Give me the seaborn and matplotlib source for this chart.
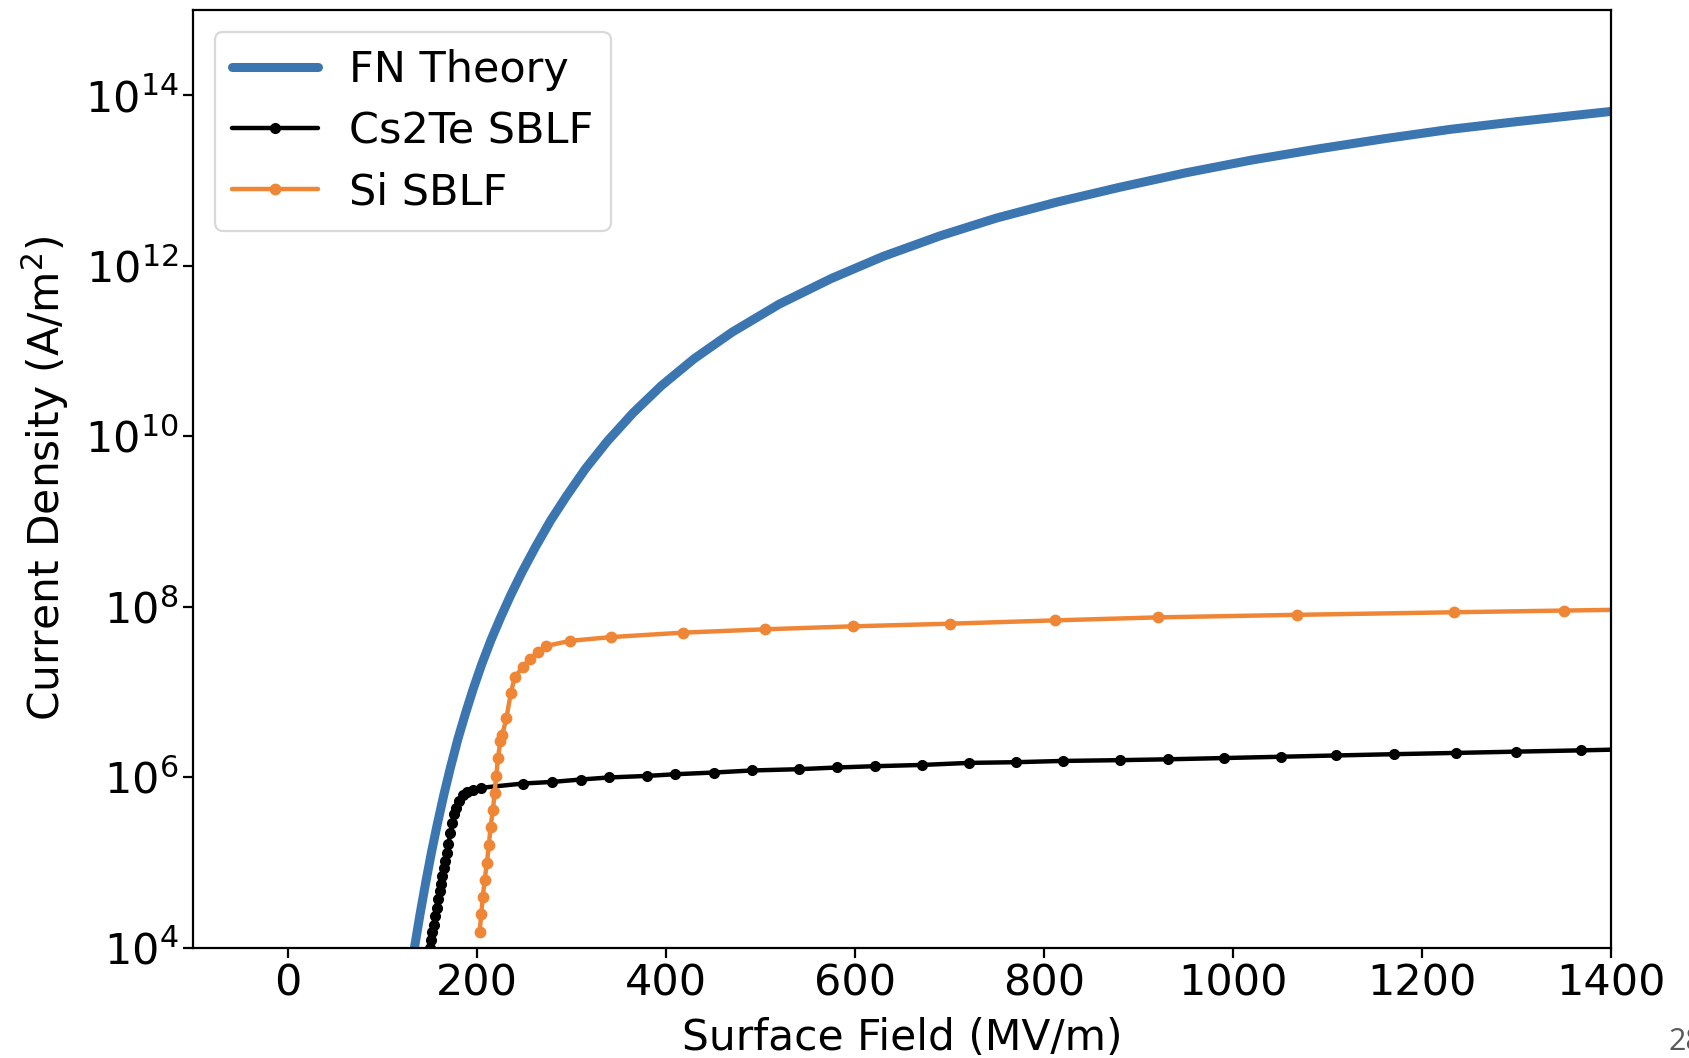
import numpy as np
import pandas as pd
import matplotlib
matplotlib.use("Agg")
import matplotlib.pyplot as plt
import seaborn as sns
from matplotlib.ticker import NullLocator

# ---- data ----
fn_field = [134, 140, 146, 152, 158, 165, 172, 180, 188, 196, 205, 215, 225, 236,
            248, 262, 278, 295, 315, 338, 365, 395, 430, 470, 520, 575, 630, 690,
            750, 815, 880, 950, 1020, 1090, 1160, 1230, 1300, 1400]
fn_logj = [4.00, 4.40, 4.77, 5.12, 5.44, 5.79, 6.11, 6.45, 6.75, 7.03, 7.32, 7.61,
           7.87, 8.14, 8.41, 8.70, 9.01, 9.30, 9.62, 9.94, 10.27, 10.59, 10.91,
           11.22, 11.55, 11.85, 12.11, 12.35, 12.56, 12.75, 12.92, 13.09, 13.24,
           13.37, 13.49, 13.60, 13.69, 13.81]

cs_field = [150, 151.5, 153, 154.5, 156, 157.5, 159, 160.5, 162, 163.5, 165, 166.5,
            168, 170, 172, 174, 176, 178, 181, 185, 190, 196, 204, 249, 280, 310,
            340, 380, 410, 451, 491, 541, 581, 621, 671, 721, 770, 820, 880, 931,
            991, 1051, 1109, 1170, 1236, 1300, 1368, 1430]
cs_logj = [4.00, 4.09, 4.18, 4.27, 4.37, 4.47, 4.57, 4.66, 4.75, 4.84, 4.93, 5.02,
           5.11, 5.22, 5.34, 5.46, 5.57, 5.64, 5.72, 5.79, 5.83, 5.855, 5.875,
           5.926, 5.945, 5.973, 5.997, 6.015, 6.035, 6.055, 6.079, 6.094, 6.114,
           6.129, 6.144, 6.168, 6.176, 6.191, 6.20, 6.21, 6.225, 6.24, 6.255,
           6.27, 6.285, 6.30, 6.315, 6.33]

si_field = [203, 204.7, 206.4, 208.2, 210.6, 212.7, 214.5, 217, 218.8, 220.6, 222.3,
            224.8, 226.9, 231.2, 236, 240, 248.4, 256, 265, 273.5, 298.9, 342.3,
            418.1, 504.6, 598, 701.1, 812, 921, 1068, 1234, 1350, 1480]
si_logj = [4.19, 4.40, 4.60, 4.79, 4.99, 5.20, 5.42, 5.61, 5.82, 6.02, 6.22, 6.42,
           6.50, 6.69, 6.99, 7.17, 7.29, 7.385, 7.47, 7.54, 7.60, 7.644, 7.696,
           7.735, 7.770, 7.801, 7.84, 7.875, 7.905, 7.935, 7.955, 7.975]

x_ticks = [0, 200, 400, 600, 800, 1000, 1200, 1400]
y_ticks = [1e4, 1e6, 1e8, 1e10, 1e12, 1e14]

BLUE = "#3B76B0"
ORANGE = "#EF8636"
FS = 31

sns.set_style("ticks")
plt.rcParams["font.family"] = ["DejaVu Sans"]
plt.rcParams.update({
    "font.size": FS,
    "text.color": "black", "axes.labelcolor": "black",
    "axes.linewidth": 1.6,
    "xtick.major.size": 7, "ytick.major.size": 7,
    "xtick.major.width": 1.6, "ytick.major.width": 1.6,
    "xtick.color": "black", "ytick.color": "black",
    "axes.edgecolor": "black",
    "xtick.labelsize": FS, "ytick.labelsize": FS,
    "axes.labelsize": 30.5, "legend.fontsize": FS,
})

fig = plt.figure(figsize=(16.89, 10.58), dpi=100)
ax = fig.add_axes([193.3 / 1689, 1 - 947.7 / 1058, (1611 - 193.3) / 1689, (947.7 - 10) / 1058])

fn = pd.DataFrame({"E": fn_field, "J": np.power(10.0, fn_logj)})
cs = pd.DataFrame({"E": cs_field, "J": np.power(10.0, cs_logj)})
si = pd.DataFrame({"E": si_field, "J": np.power(10.0, si_logj)})

sns.lineplot(data=fn, x="E", y="J", ax=ax, color=BLUE, lw=6.5, sort=False,
             estimator=None, label="FN Theory")
sns.lineplot(data=cs, x="E", y="J", ax=ax, color="black", lw=3.2, sort=False,
             estimator=None, marker="o", markersize=8, markeredgewidth=0,
             label="Cs2Te SBLF")
sns.lineplot(data=si, x="E", y="J", ax=ax, color=ORANGE, lw=3.2, sort=False,
             estimator=None, marker="o", markersize=8.5, markeredgewidth=0,
             label="Si SBLF")

ax.set_yscale("log")
ax.set_xlim(-100, 1400)
ax.set_ylim(1e4, 1e15)
ax.set_xticks(x_ticks)
ax.set_yticks(y_ticks)
ax.yaxis.set_minor_locator(NullLocator())
ax.set_xlabel("Surface Field (MV/m)", labelpad=9)
ax.set_ylabel("Current Density (A/m$^2$)", labelpad=10)
for s in ax.spines.values():
    s.set_visible(True)

leg = ax.legend(loc="upper left", handlelength=2.0, frameon=True,
                borderaxespad=0.5, labelspacing=0.45, borderpad=0.4,
                handletextpad=0.72)
leg.get_frame().set_edgecolor("#d0d0d0")
leg.get_frame().set_linewidth(1.6)

fig.text(1669 / 1689, (1058 - 1050) / 1058, "28", ha="left", va="baseline",
         fontsize=22, color="#595959", family=["Open Sans", "DejaVu Sans"])

fig.savefig("out.png", dpi=100)
